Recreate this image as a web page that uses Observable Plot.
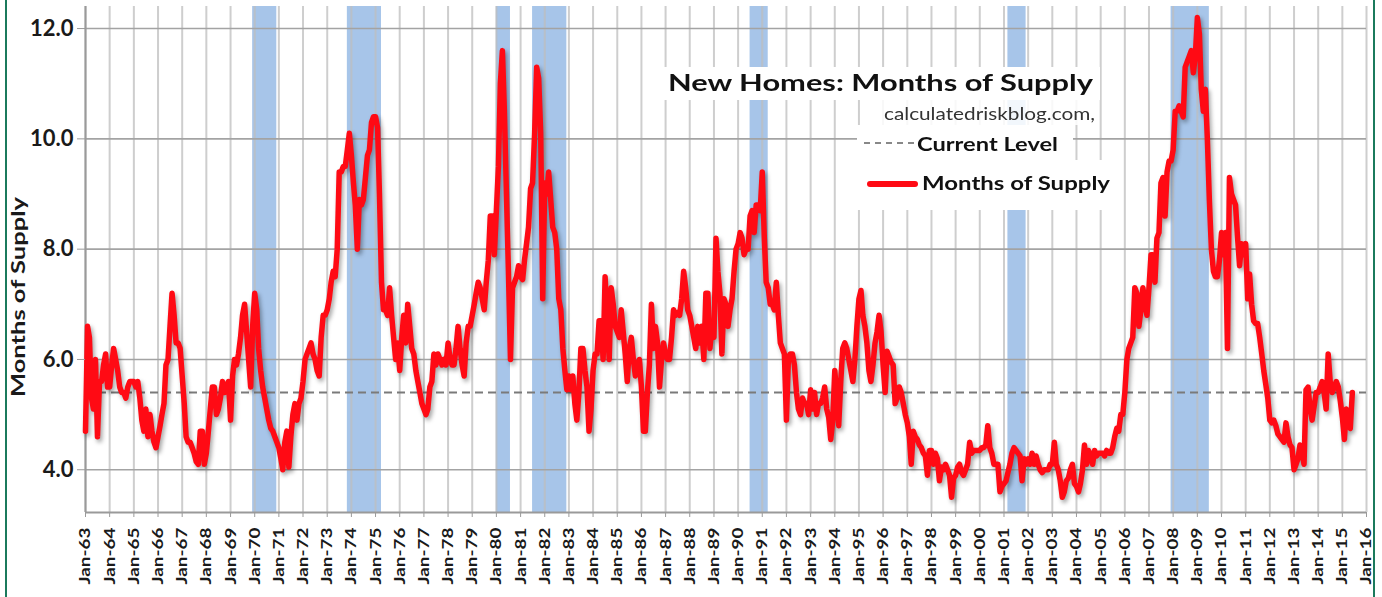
<!DOCTYPE html>
<html>
<head>
<meta charset="utf-8">
<script src="https://cdn.jsdelivr.net/npm/d3@7"></script>
<script src="https://cdn.jsdelivr.net/npm/@observablehq/plot@0.6"></script>
<style>
  html, body { margin: 0; padding: 0; background: #fff; }
  #wrap { position: relative; width: 1382px; height: 597px; overflow: hidden; font-family: Lato, "Open Sans", sans-serif; }
  #wrap svg { position: absolute; left: 0; top: 0; }
  .border { position: absolute; top: 0; width: 2px; height: 597px; background: #1b7a5c; }
  .box { position: absolute; background: #fff; }
  .txt { position: absolute; white-space: nowrap; line-height: 1; color: #111; transform-origin: 0 0; }
  g[aria-label="x-axis tick label"] text { font: bold 15.5px Lato, sans-serif; fill: #1a1a1a; }
  g[aria-label="y-axis tick label"] text { font: bold 22px Lato, sans-serif; fill: #1a1a1a; }
  .ylabel { font: bold 18.5px Lato, sans-serif; fill: #1a1a1a; }
  g[aria-label="line"] path { filter: drop-shadow(2px 3px 2px rgba(0,0,0,0.35)); }
</style>
</head>
<body>
<div id="wrap"></div>
<script>
// ---- Data (monthly months' supply, Jan 1963 onward) ----
const startYear = 1963;
const supply = [
  // 1963
  4.7, 6.6, 6.4, 5.3, 5.1, 6.0, 4.6, 5.6, 5.6, 5.9, 6.1, 5.5,
  // 1964
  5.5, 5.9, 6.2, 6.0, 5.8, 5.5, 5.4, 5.4, 5.3, 5.5, 5.6, 5.6,
  // 1965
  5.6, 5.5, 5.6, 5.3, 4.9, 4.7, 5.1, 4.6, 5.0, 4.7, 4.5, 4.4,
  // 1966
  4.6, 4.8, 5.0, 5.2, 5.9, 6.0, 6.6, 7.2, 6.8, 6.3, 6.3, 6.2,
  // 1967
  5.7, 5.2, 4.6, 4.5, 4.5, 4.4, 4.3, 4.15, 4.1, 4.7, 4.7, 4.1,
  // 1968
  4.3, 4.7, 5.1, 5.5, 5.5, 5.0, 5.1, 5.3, 5.6, 5.4, 5.5, 5.6,
  // 1969
  4.9, 5.7, 6.0, 5.9, 6.1, 6.4, 6.8, 7.0, 6.5, 6.0, 5.5, 6.6,
  // 1970
  7.2, 6.9, 6.2, 5.8, 5.5, 5.3, 5.1, 4.9, 4.75, 4.7, 4.6, 4.5,
  // 1971
  4.4, 4.2, 4.0, 4.5, 4.7, 4.05, 4.6, 5.0, 5.2, 4.9, 5.2, 5.3,
  // 1972
  5.6, 6.0, 6.1, 6.2, 6.3, 6.1, 6.0, 5.8, 5.7, 6.4, 6.8, 6.8,
  // 1973
  6.9, 7.1, 7.4, 7.6, 7.5, 8.0, 9.4, 9.4, 9.5, 9.5, 9.8, 10.1,
  // 1974
  9.7, 9.2, 8.8, 8.0, 8.9, 8.8, 8.9, 9.3, 9.7, 9.8, 10.3, 10.4,
  // 1975
  10.4, 10.2, 9.0, 7.4, 6.9, 6.9, 6.8, 7.3, 6.8, 6.4, 6.0, 6.3,
  // 1976
  5.8, 6.4, 6.8, 6.3, 7.0, 6.6, 6.2, 6.1, 5.8, 5.6, 5.4, 5.2,
  // 1977
  5.1, 5.0, 5.1, 5.5, 5.6, 6.1, 5.9, 6.1, 6.0, 5.9, 6.0, 5.9,
  // 1978
  6.3, 6.0, 5.9, 5.9, 6.2, 6.6, 6.2, 5.9, 5.7, 6.3, 6.6, 6.6,
  // 1979
  6.8, 7.0, 7.2, 7.4, 7.3, 7.1, 6.9, 7.4, 7.8, 8.6, 8.6, 7.9,
  // 1980
  8.7, 9.5, 11.0, 11.6, 10.5, 9.0, 7.6, 6.0, 7.3, 7.4, 7.5, 7.7,
  // 1981
  7.5, 7.45, 7.8, 8.1, 8.4, 9.1, 9.2, 10.1, 11.3, 11.1, 10.1, 7.1,
  // 1982
  9.2, 9.0, 9.4, 8.9, 8.4, 8.3, 8.0, 7.1, 6.9, 6.2, 5.8, 5.45,
  // 1983
  5.7, 5.45, 5.7, 5.2, 4.9, 5.4, 6.2, 6.2, 5.8, 5.5, 4.7, 5.1,
  // 1984
  5.8, 6.1, 6.1, 6.7, 6.7, 6.0, 7.5, 6.7, 6.0, 7.3, 7.0, 6.6,
  // 1985
  6.5, 6.4, 6.9, 6.5, 6.1, 5.6, 6.2, 6.4, 6.0, 5.7, 5.9, 6.0,
  // 1986
  5.5, 4.7, 4.7, 5.4, 5.9, 7.0, 6.2, 6.6, 6.3, 5.5, 6.0, 6.3,
  // 1987
  6.1, 6.0, 6.0, 6.4, 6.9, 6.8, 6.85, 6.8, 7.1, 7.6, 7.3, 6.9,
  // 1988
  6.8, 6.6, 6.4, 6.2, 6.6, 6.3, 6.6, 6.0, 7.2, 7.2, 6.2, 6.6,
  // 1989
  6.4, 8.2, 7.6, 7.2, 6.1, 7.1, 7.0, 6.6, 6.9, 7.1, 7.6, 8.0,
  // 1990
  8.1, 8.3, 8.2, 7.9, 8.0, 8.0, 8.6, 8.7, 8.3, 8.8, 8.8, 8.7,
  // 1991
  9.4, 8.2, 7.4, 7.3, 7.0, 7.0, 6.9, 7.4, 6.8, 6.3, 6.2, 6.1,
  // 1992
  4.9, 6.05, 6.1, 6.1, 5.9, 5.4, 5.1, 5.0, 5.3, 5.2, 5.2, 5.0,
  // 1993
  5.45, 5.1, 5.4, 5.0, 5.2, 5.2, 5.3, 5.5, 5.1, 4.95, 4.55, 4.9,
  // 1994
  5.8, 5.3, 4.8, 5.6, 6.2, 6.3, 6.2, 6.0, 5.8, 5.6, 6.0, 6.6,
  // 1995
  7.1, 7.25, 6.8, 6.6, 6.3, 5.8, 5.6, 5.9, 6.3, 6.5, 6.8, 6.5,
  // 1996
  5.9, 5.4, 6.15, 6.05, 5.95, 5.9, 5.2, 5.3, 5.5, 5.4, 5.2, 5.0,
  // 1997
  4.85, 4.6, 4.1, 4.7, 4.6, 4.55, 4.45, 4.4, 4.3, 4.25, 3.9, 4.35,
  // 1998
  4.35, 4.1, 4.3, 4.2, 3.8, 4.05, 4.0, 4.1, 4.0, 3.9, 3.5, 3.85,
  // 1999
  3.9, 4.05, 4.1, 3.95, 3.9, 4.0, 4.1, 4.5, 4.3, 4.35, 4.35, 4.35,
  // 2000
  4.35, 4.4, 4.4, 4.45, 4.8, 4.4, 4.3, 4.1, 4.1, 4.1, 3.6, 3.7,
  // 2001
  3.75, 3.8, 3.95, 4.1, 4.3, 4.4, 4.35, 4.3, 4.25, 3.8, 4.2, 4.1,
  // 2002
  4.2, 4.1, 4.3, 4.1, 4.25, 4.1, 4.0, 3.95, 4.0, 4.0, 4.0, 4.1,
  // 2003
  4.1, 4.5, 4.1, 4.0, 3.8, 3.5, 3.6, 3.8, 3.85, 4.0, 4.1, 3.75,
  // 2004
  3.7, 3.6, 3.75, 4.0, 4.45, 4.1, 4.35, 4.25, 4.1, 4.35, 4.25, 4.3,
  // 2005
  4.3, 4.3, 4.25, 4.35, 4.3, 4.3, 4.4, 4.6, 4.75, 4.7, 5.0, 5.0,
  // 2006
  5.4, 6.0, 6.2, 6.3, 6.4, 7.3, 7.2, 6.6, 6.9, 7.3, 7.0, 6.8,
  // 2007
  7.3, 7.9, 7.9, 7.4, 8.2, 8.3, 9.2, 9.3, 8.6, 9.4, 9.6, 9.6,
  // 2008
  9.8, 10.5, 10.5, 10.6, 10.5, 10.4, 11.3, 11.4, 11.5, 11.6, 11.2, 11.5,
  // 2009
  12.2, 11.9, 10.9, 10.5, 10.9, 10.0, 8.9, 8.0, 7.6, 7.5, 7.5, 7.8,
  // 2010
  8.3, 7.9, 8.3, 6.2, 9.3, 9.0, 8.9, 8.8, 8.2, 7.7, 8.1, 7.9,
  // 2011
  8.1, 7.1, 7.55, 7.0, 6.7, 6.65, 6.65, 6.4, 6.1, 5.8, 5.55, 5.3,
  // 2012
  4.9, 4.85, 4.9, 4.8, 4.65, 4.6, 4.55, 4.5, 4.85, 4.6, 4.45, 4.4,
  // 2013
  4.0, 4.1, 4.2, 4.45, 4.3, 4.1, 5.45, 5.5, 5.1, 4.9, 5.15, 5.4,
  // 2014
  5.4, 5.5, 5.6, 5.4, 5.1, 6.1, 5.6, 5.4, 5.5, 5.6, 5.5, 5.25,
  // 2015
  4.95, 4.55, 5.1, 4.8, 4.75, 5.4
];
const currentLevel = 5.4;
const recessionStart = ["1969-12", "1973-11", "1980-01", "1981-07", "1990-07", "2001-03", "2007-12"];
const recessionEnd   = ["1970-11", "1975-03", "1980-07", "1982-11", "1991-03", "2001-11", "2009-06"];
const yTicks = [4, 6, 8, 10, 12];
const xTickYears = [1963,1964,1965,1966,1967,1968,1969,1970,1971,1972,1973,1974,1975,1976,1977,1978,1979,
  1980,1981,1982,1983,1984,1985,1986,1987,1988,1989,1990,1991,1992,1993,1994,1995,1996,1997,1998,1999,
  2000,2001,2002,2003,2004,2005,2006,2007,2008,2009,2010,2011,2012,2013,2014,2015,2016];
const yLabel = "Months of Supply";
const titleText = "New Homes: Months of Supply";
const sourceText = "calculatedriskblog.com,";
const legendCurrent = "Current Level";
const legendSeries = "Months of Supply";

// ---- Build tables ----
const series = supply.map((v, i) => ({ date: new Date(Date.UTC(startYear, i, 1)), v }));
const parseMonth = d3.utcParse("%Y-%m");
const recessions = recessionStart.map((s, i) => ({
  start: parseMonth(s),
  end: d3.utcMonth.offset(parseMonth(recessionEnd[i]), 1)
}));
const xTicks = xTickYears.map(y => new Date(Date.UTC(y, 0, 1)));
const x0 = xTicks[0], x1 = xTicks[xTicks.length - 1];
const yMin = 3.225, yMax = 12.4;

const chart = Plot.plot({
  width: 1382,
  height: 597,
  marginLeft: 85,
  marginRight: 16,
  marginTop: 6,
  marginBottom: 85,
  style: { background: "transparent", overflow: "visible" },
  x: { type: "utc", domain: [x0, x1] },
  y: { domain: [yMin, yMax] },
  marks: [
    Plot.rect(recessions, { x1: "start", x2: "end", y1: yMin, y2: yMax, fill: "#a7c5e9" }),
    Plot.ruleX(xTicks, { stroke: "#bdbdbd", strokeOpacity: 0.75, strokeWidth: 2 }),
    Plot.ruleY(yTicks, { stroke: "#a3a3a3", strokeWidth: 1.6 }),
    Plot.ruleX([x0], { stroke: "#9a9a9a", strokeWidth: 2 }),
    Plot.ruleY([yMin], { stroke: "#9a9a9a", strokeWidth: 2 }),
    Plot.ruleY([currentLevel], { stroke: "#7a7a7a", strokeWidth: 2, strokeDasharray: "8,5" }),
    Plot.line(series, { x: "date", y: "v", stroke: "#ff0a14", strokeWidth: 5.5, strokeLinejoin: "round" }),
    Plot.axisX({ ticks: xTicks, tickFormat: d3.utcFormat("Jan-%y"), tickRotate: -90, tickSize: 5, tickPadding: 10, stroke: "#9a9a9a", label: null }),
    Plot.axisY({ ticks: yTicks, tickFormat: d => d.toFixed(1), tickSize: 8, tickPadding: 4, stroke: "#9a9a9a", label: null })
  ]
});

const wrap = document.getElementById("wrap");
wrap.appendChild(chart);

// stretch rotated tick labels to the reference's length
d3.select(chart).selectAll('g[aria-label="x-axis tick label"] text')
  .attr("textLength", 57).attr("lengthAdjust", "spacingAndGlyphs");

// y-axis title
d3.select(chart).append("text")
  .attr("class", "ylabel")
  .attr("text-anchor", "middle")
  .attr("transform", "translate(25,297) rotate(-90)")
  .attr("textLength", 200).attr("lengthAdjust", "spacingAndGlyphs")
  .text(yLabel);

function add(cls, styles, text) {
  const d = document.createElement("div");
  d.className = cls;
  Object.assign(d.style, styles);
  if (text) d.textContent = text;
  wrap.appendChild(d);
  return d;
}
function fitText(text, left, capTop, capHeight, width, weight, color) {
  const fs = capHeight / 0.72;
  const d = add("txt", { left: left + "px", top: (capTop - 0.17 * fs) + "px", fontSize: fs + "px", fontWeight: weight, color: color || "#111" }, text);
  const w = d.getBoundingClientRect().width;
  d.style.transform = `scaleX(${width / w})`;
  return d;
}
// borders
add("border", { left: "5px" });
add("border", { left: "1373px" });
// legend backgrounds
add("box", { left: "663px", top: "67px", width: "437px", height: "33px" });
add("box", { left: "880px", top: "100px", width: "217px", height: "25px", background: "rgba(255,255,255,0.85)" });
add("box", { left: "857px", top: "125px", width: "216px", height: "35px" });
add("box", { left: "857px", top: "160px", width: "257px", height: "50px" });
// legend texts
fitText(titleText, 668, 75, 17, 425, "bold");
fitText(sourceText, 884, 107, 13, 211, "normal", "#333");
fitText(legendCurrent, 917, 137.5, 14.2, 141, "bold");
fitText(legendSeries, 922, 176.7, 14, 188, "bold");
add("box", { left: "864px", top: "142px", width: "50px", height: "0px", borderTop: "2px dashed #888", background: "transparent" });
add("box", { left: "867px", top: "181px", width: "51px", height: "6px", background: "#ff0a14", borderRadius: "3px" });
</script>
</body>
</html>
